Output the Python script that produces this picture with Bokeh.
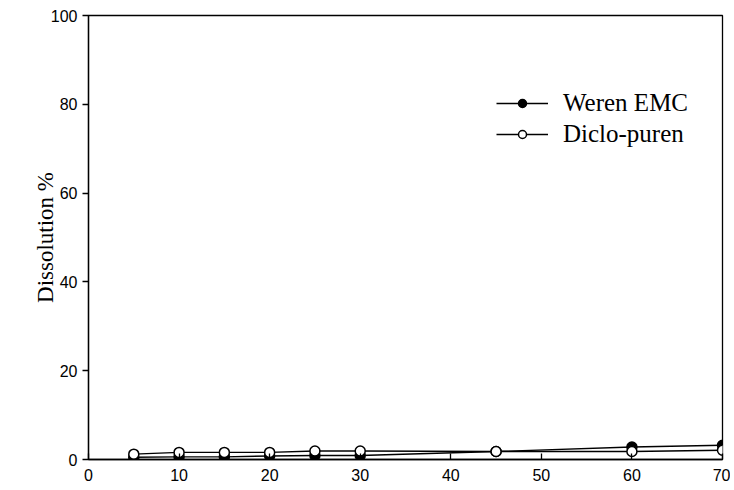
from bokeh.plotting import figure
from bokeh.models import Range1d, FixedTicker, Legend, LegendItem
from bokeh.embed import file_html
from bokeh.resources import INLINE

time_min = [5, 10, 15, 20, 25, 30, 45, 60, 70]
weren_emc = [0.5, 0.6, 0.6, 0.8, 0.9, 0.9, 1.8, 2.8, 3.2]
diclo_puren = [1.2, 1.6, 1.6, 1.6, 1.9, 1.9, 1.8, 1.8, 2.1]
x_ticks = [0, 10, 20, 30, 40, 50, 60, 70]
y_ticks = [0, 20, 40, 60, 80, 100]

p = figure(frame_width=634, frame_height=444, output_backend="svg", toolbar_location=None,
           x_range=Range1d(0, 70), y_range=Range1d(0, 100),
           min_border_left=88, min_border_top=15, min_border_right=8, min_border_bottom=10)
p.background_fill_color = "white"
p.border_fill_color = "white"
p.grid.visible = False
p.outline_line_color = "black"
p.outline_line_width = 1.3

p.xaxis.ticker = FixedTicker(ticks=x_ticks)
p.yaxis.ticker = FixedTicker(ticks=y_ticks)
for ax in (p.xaxis, p.yaxis):
    ax.axis_line_color = "black"
    ax.axis_line_width = 1.3
    ax.major_tick_line_color = "black"
    ax.major_tick_line_width = 1.3
    ax.minor_tick_line_color = None
    ax.major_label_text_font = "Liberation Sans"
    ax.major_label_text_font_size = "16px"
    ax.major_label_text_color = "black"
p.xaxis.major_tick_in = 6
p.xaxis.major_tick_out = 0
p.xaxis.major_label_standoff = 9
p.yaxis.major_tick_in = 0
p.yaxis.major_tick_out = 6
p.yaxis.major_label_standoff = 5
p.yaxis.axis_label = "Dissolution %"
p.yaxis.axis_label_text_font = "Liberation Serif"
p.yaxis.axis_label_text_font_size = "23px"
p.yaxis.axis_label_text_font_style = "normal"
p.yaxis.axis_label_text_color = "black"
p.yaxis.axis_label_standoff = -10

l1 = p.line(time_min, weren_emc, line_color="black", line_width=1.4)
s1 = p.scatter(time_min, weren_emc, marker="circle", size=10, fill_color="black",
               line_color="black", line_width=1.5)
l2 = p.line(time_min, diclo_puren, line_color="black", line_width=1.4)
s2 = p.scatter(time_min, diclo_puren, marker="circle", size=10, fill_color="white",
               line_color="black", line_width=1.5)

legend = Legend(items=[LegendItem(label="Weren EMC", renderers=[l1, s1]),
                       LegendItem(label="Diclo-puren", renderers=[l2, s2])],
                location=(408, 311))
legend.border_line_color = None
legend.background_fill_alpha = 0
legend.padding = 0
legend.margin = 0
legend.spacing = 3
legend.glyph_width = 52
legend.glyph_height = 20
legend.label_height = 20
legend.label_standoff = 15
legend.label_text_font = "Liberation Serif"
legend.label_text_font_size = "25px"
legend.label_text_color = "black"
legend.label_text_baseline = "middle"
p.add_layout(legend, "center")

open("out.html", "w").write(file_html(p, INLINE))
